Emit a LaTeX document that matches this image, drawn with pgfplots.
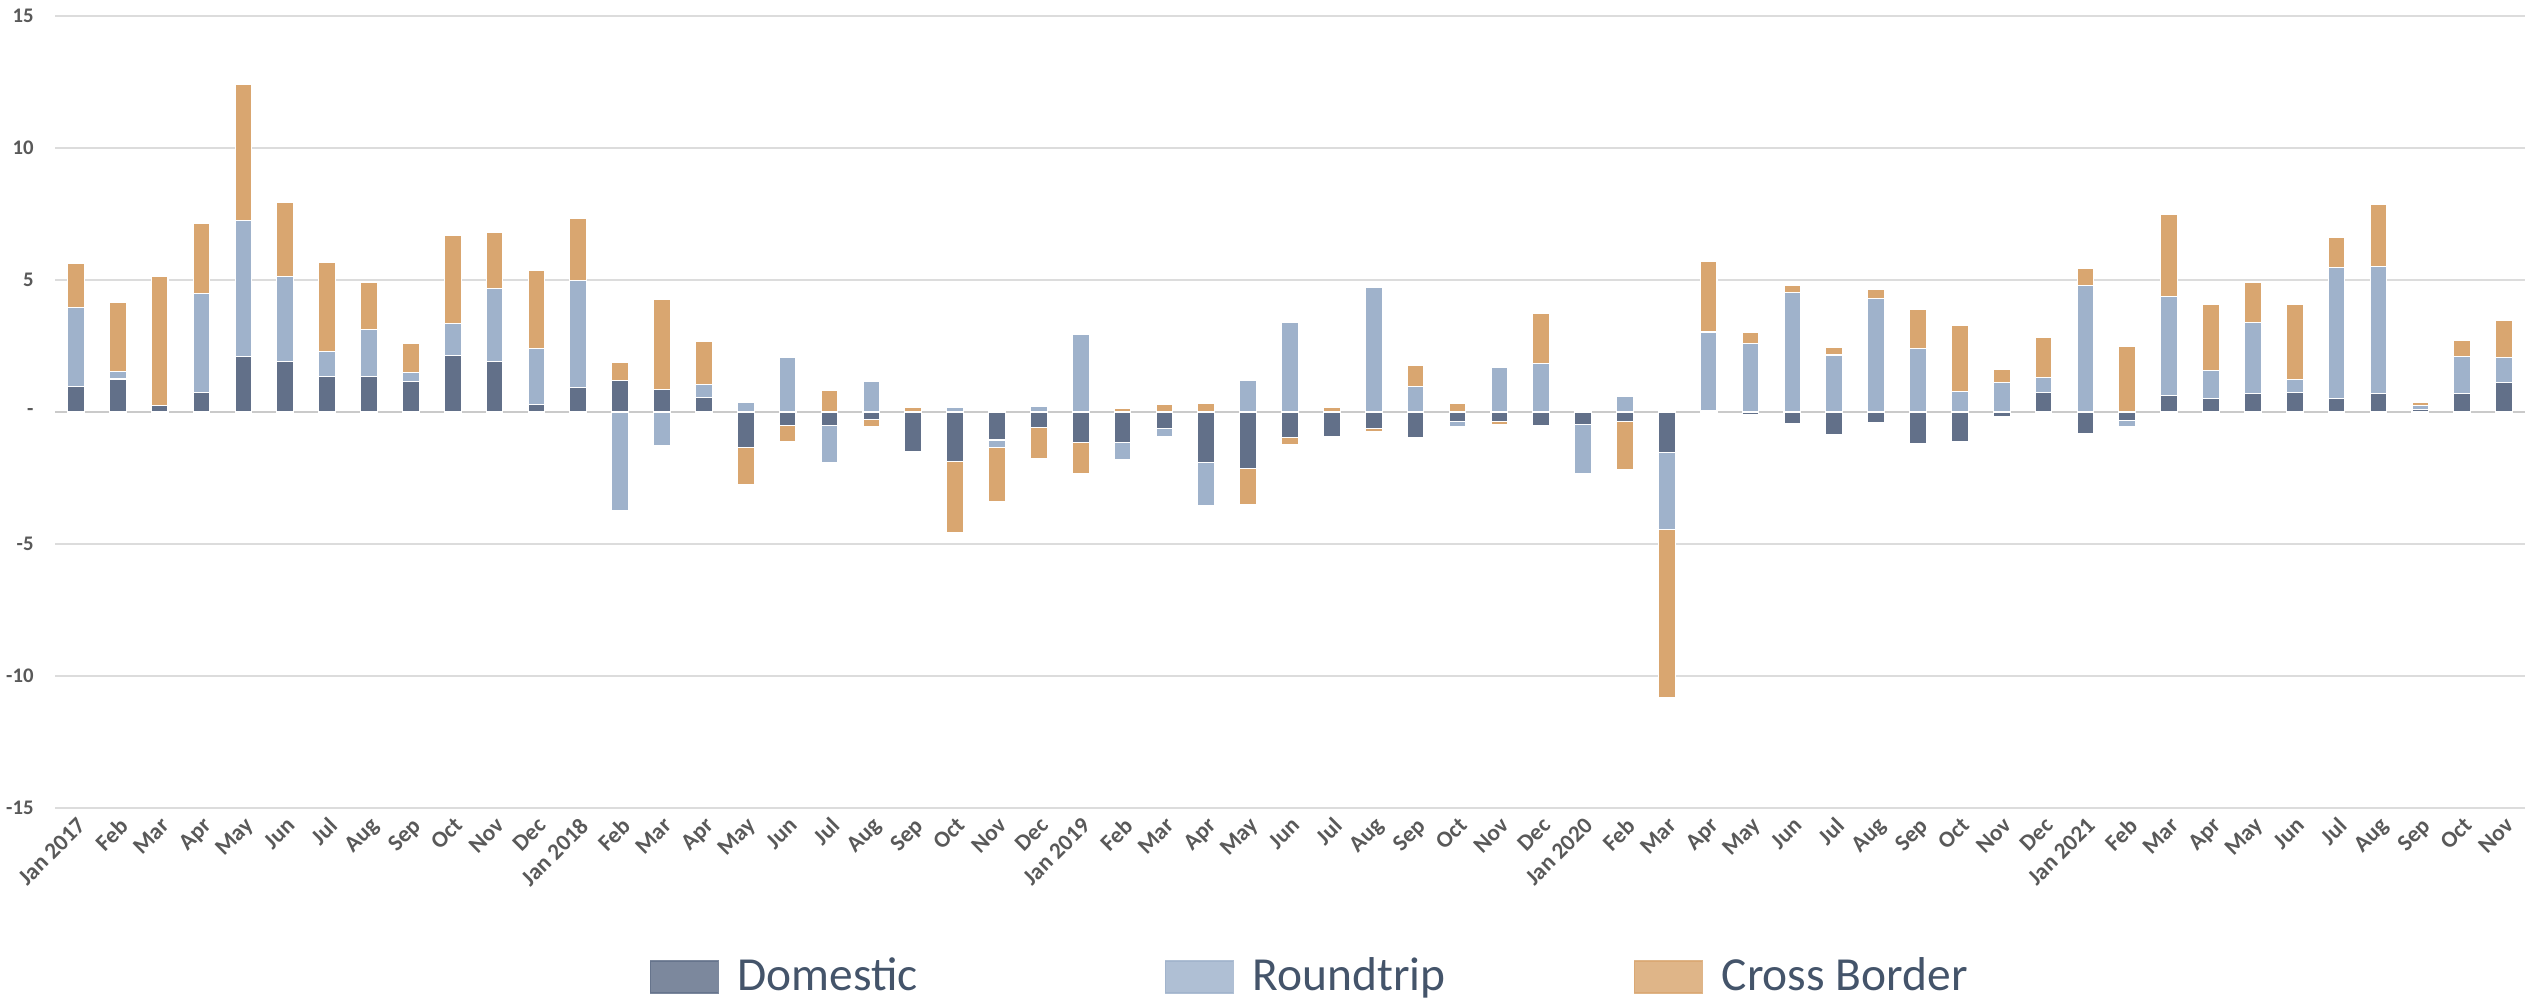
\documentclass[border=0pt]{standalone}
\usepackage{fontspec}
\setmainfont{Carlito}
\usepackage{pgfplots}
\usepackage{pgfplotstable}
\pgfplotsset{compat=1.18}
\definecolor{cD}{HTML}{627089}
\definecolor{cR}{HTML}{9FB2CB}
\definecolor{cC}{HTML}{D9A670}
\definecolor{gridc}{HTML}{DCDCDC}
\definecolor{zeroc}{HTML}{CACACA}
\definecolor{tickc}{HTML}{595959}
\definecolor{legc}{HTML}{44546A}

\pgfplotstableread{
x D R C
0 0.98 2.97 1.69
1 1.25 0.27 2.63
2 0.24 -0.05 4.90
3 0.75 3.74 2.64
4 2.09 5.17 5.13
5 1.90 3.24 2.79
6 1.34 0.94 3.40
7 1.36 1.76 1.79
8 1.15 0.35 1.11
9 2.14 1.20 3.35
10 1.93 2.74 2.14
11 0.28 2.11 2.96
12 0.92 4.06 2.35
13 1.20 -3.73 0.68
14 0.84 -1.27 3.43
15 0.56 0.49 1.63
16 -1.34 0.37 -1.40
17 -0.52 2.07 -0.58
18 -0.52 -1.38 0.82
19 -0.28 1.17 -0.26
20 -1.48 0 0.17
21 -1.86 0.16 -2.69
22 -1.06 -0.30 -2.02
23 -0.59 0.21 -1.19
24 -1.15 2.93 -1.18
25 -1.15 -0.66 0.14
26 -0.63 -0.31 0.30
27 -1.90 -1.65 0.33
28 -2.13 1.20 -1.39
29 -0.96 3.40 -0.26
30 -0.91 0 0.17
31 -0.63 4.72 -0.10
32 -0.98 0.96 0.82
33 -0.35 -0.21 0.31
34 -0.35 1.69 -0.12
35 -0.52 1.85 1.88
36 -0.47 -1.86 0
37 -0.35 0.59 -1.81
38 -1.53 -2.93 -6.34
39 0.07 2.96 2.68
40 -0.08 2.60 0.43
41 -0.42 4.53 0.26
42 -0.84 2.16 0.28
43 -0.38 4.30 0.35
44 -1.20 2.42 1.47
45 -1.13 0.78 2.51
46 -0.17 1.11 0.51
47 0.75 0.57 1.50
48 -0.82 4.79 0.65
49 -0.31 -0.23 2.47
50 0.61 3.76 3.10
51 0.51 1.08 2.49
52 0.70 2.70 1.50
53 0.75 0.47 2.87
54 0.51 4.96 1.15
55 0.70 4.81 2.36
56 0.10 0.16 0.09
57 0.70 1.41 0.59
58 1.11 0.95 1.42
}\data

\pgfplotsset{
  common/.style={
    scale only axis, width=24.7cm, height=7.92cm,
    xmin=-0.5, xmax=58.5, ymin=-15, ymax=15,
    ybar stacked, bar width=0.167cm,
    axis line style={draw=none},
    major tick length=0pt,
    clip=false,
  },
  bars/.style={draw=white, line width=0.3pt, fill=#1,
    legend image code/.code={\fill[#1, opacity=0.83] (0cm,-0.16cm) rectangle (0.68cm,0.16cm);}},
}

\begin{document}
\begin{tikzpicture}
\useasboundingbox (-0.55,-1.93) rectangle (24.70,8.08);
\begin{axis}[common,
  ytick={-15,-10,-5,0,5,10,15},
  yticklabels={-15,-10,-5,-,5,10,15},
  ymajorgrids,
  grid style={draw=gridc, line width=0.4pt},
  extra y ticks={0}, extra y tick labels={},
  extra y tick style={grid style={draw=zeroc, line width=0.8pt}},
  xtick={0,...,58},
  xticklabels={Jan 2017,Feb,Mar,Apr,May,Jun,Jul,Aug,Sep,Oct,Nov,Dec,
    Jan 2018,Feb,Mar,Apr,May,Jun,Jul,Aug,Sep,Oct,Nov,Dec,
    Jan 2019,Feb,Mar,Apr,May,Jun,Jul,Aug,Sep,Oct,Nov,Dec,
    Jan 2020,Feb,Mar,Apr,May,Jun,Jul,Aug,Sep,Oct,Nov,Dec,
    Jan 2021,Feb,Mar,Apr,May,Jun,Jul,Aug,Sep,Oct,Nov},
  x tick label style={rotate=45, anchor=north east, font=\fontsize{6.6}{8}\selectfont\bfseries, text=tickc, inner sep=1.5pt},
  y tick label style={font=\fontsize{5.9}{7}\selectfont\bfseries, text=tickc, xshift=-0.09cm},
  legend columns=3,
  legend style={draw=none, fill=none, inner sep=0pt,
    at={(axis description cs:0.2405,-0.2134)}, anchor=west,
    font=\fontsize{13.5}{16}\selectfont, text=legc,
    nodes={inner sep=0pt},
    /tikz/every odd column/.append style={column sep=0.19cm},
    /tikz/every even column/.append style={column sep=0pt}},
]
\addplot[bars=cD] table[x=x, y expr={max(\thisrow{D},0)}] {\data};
\addplot[bars=cR] table[x=x, y expr={max(\thisrow{R},0)}] {\data};
\addplot[bars=cC] table[x=x, y expr={max(\thisrow{C},0)}] {\data};
\legend{\makebox[4.27cm][l]{Domestic},\makebox[3.81cm][l]{Roundtrip},Cross Border}
\end{axis}
\begin{axis}[common, hide axis]
\addplot[bars=cD] table[x=x, y expr={min(\thisrow{D},0)}] {\data};
\addplot[bars=cR] table[x=x, y expr={min(\thisrow{R},0)}] {\data};
\addplot[bars=cC] table[x=x, y expr={min(\thisrow{C},0)}] {\data};
\end{axis}
\end{tikzpicture}
\end{document}
